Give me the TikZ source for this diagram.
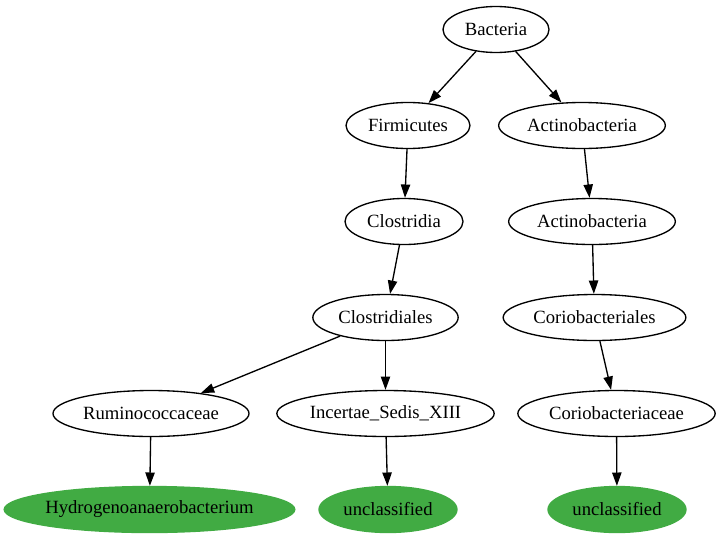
\documentclass[tikz,border=0pt]{standalone}
\usepackage{fontspec}
\setmainfont{Liberation Serif}
\usetikzlibrary{shapes.geometric,arrows.meta}
\definecolor{leafgreen}{RGB}{65,171,67}
\tikzset{
  tax/.style={ellipse, draw=black, line width=1pt, inner sep=0pt, minimum height=34.5pt, font=\fontsize{14}{16}\selectfont},
  leaf/.style={tax, draw=leafgreen, fill=leafgreen},
  edge/.style={draw=black, line width=1pt, -{Triangle[length=10pt,width=7pt]}}
}
\newcommand{\lbl}[1]{\makebox[0pt]{#1}}
\begin{document}
\begin{tikzpicture}[x=0.75pt,y=-0.75pt]
\useasboundingbox (0,0) rectangle (720,539);
\node[tax, minimum width=79.5pt] (bac) at (496,29.5) {\lbl{Bacteria}};
\node[tax, minimum width=93pt] (fir) at (408,125.5) {\lbl{Firmicutes}};
\node[tax, minimum width=125pt] (act1) at (582,125.5) {\lbl{Actinobacteria}};
\node[tax, minimum width=88.5pt] (clo) at (404,221.5) {\lbl{Clostridia}};
\node[tax, minimum width=125pt] (act2) at (592,221.5) {\lbl{Actinobacteria}};
\node[tax, minimum width=109pt] (clos) at (385.5,317.5) {\lbl{Clostridiales}};
\node[tax, minimum width=137pt] (cor) at (594.5,317.5) {\lbl{Coriobacteriales}};
\node[tax, minimum width=147pt] (rum) at (151,413.5) {\lbl{Ruminococcaceae}};
\node[tax, minimum width=163pt] (inc) at (385.5,413.5) {\lbl{Incertae\_Sedis\_XIII}};
\node[tax, minimum width=148pt] (cori) at (616.5,413.5) {\lbl{Coriobacteriaceae}};
\node[leaf, minimum width=218pt] (hyd) at (149.5,509.5) {\lbl{Hydrogenoanaerobacterium}};
\node[leaf, minimum width=103.5pt] (unc1) at (388,509.5) {\lbl{unclassified}};
\node[leaf, minimum width=103.5pt] (unc2) at (617,509.5) {\lbl{unclassified}};
\draw[edge] (bac) -- (fir);
\draw[edge] (bac) -- (act1);
\draw[edge] (fir) -- (clo);
\draw[edge] (act1) -- (act2);
\draw[edge] (clo) -- (clos);
\draw[edge] (act2) -- (cor);
\draw[edge] (clos) -- (rum);
\draw[edge] (clos) -- (inc);
\draw[edge] (cor) -- (cori);
\draw[edge] (rum) -- (hyd);
\draw[edge] (inc) -- (unc1);
\draw[edge] (cori) -- (unc2);
\end{tikzpicture}
\end{document}
